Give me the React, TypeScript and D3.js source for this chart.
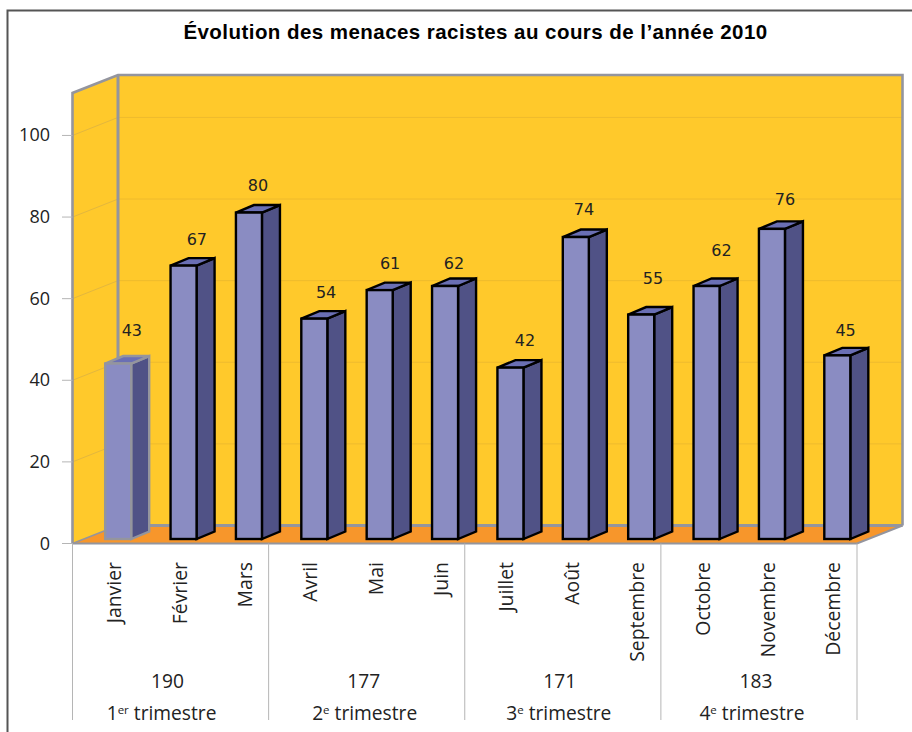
import * as d3 from "d3";

const months = ["Janvier", "Février", "Mars", "Avril", "Mai", "Juin", "Juillet", "Août", "Septembre", "Octobre", "Novembre", "Décembre"];
const threats = [43, 67, 80, 54, 61, 62, 42, 74, 55, 62, 76, 45];
const quarterTotals = [190, 177, 171, 183];
const quarterNames = ["1", "2", "3", "4"];
const quarterSuffix = ["er", "e", "e", "e"];
const yTicks = [0, 20, 40, 60, 80, 100];

const width = 912;
const height = 732;
const left = 72.5;
const right = 857;
const bottom = 543.5;
const depthX = 45.5;
const depthY = 18;
const labelFont = "'Open Sans', 'Noto Sans', sans-serif";
const wallGrey = "#94959e";

// the value labels were placed by hand in the original, so they don't sit evenly over the bars
const labelLift = [28, 20.6, 21.6, 20.7, 21, 17, 22, 22, 30.6, 30, 24, 19];
const labelShift = [26.7, 26.3, 22, 24.8, 23.4, 22, 27.6, 21.2, 24.8, 28, 26, 21.3];
const quarterShift = [-9, -2, -4, -7];

const x = d3.scaleBand<string>().domain(months).range([left, right]).paddingInner(0.602).paddingOuter(0.301);
const y = d3.scaleLinear().domain([0, 110.4]).range([bottom, 93]);
const quarterX = d3.scaleLinear().domain([0, 4]).range([left, right]);

const line = d3.line();
const poly = (pts: [number, number][]) => line(pts) + "Z";

export default function App() {
  const top = y(110.4);
  const barShiftX = 13;
  const barShiftY = 4.5;
  const sideX = 18;
  const sideY = 7.5;

  return (
    <svg width={width} height={height} style={{ position: "absolute", left: 0, top: 0, display: "block", background: "#fff" }}>
      {/* frame */}
      <path d="M7.5,732V10.5H912" fill="none" stroke="#555" strokeWidth={2} />
      <text
        x={475.5}
        y={38.5}
        textAnchor="middle"
        fontFamily="'Liberation Sans', Arial, sans-serif"
        fontWeight="bold"
        fontSize={20.5}
        letterSpacing={0.45}
        fill="#000"
      >
        Évolution des menaces racistes au cours de l’année 2010
      </text>

      {/* walls */}
      <path d={poly([[left, bottom], [left, top], [left + depthX, top - depthY], [left + depthX, bottom - depthY]])} fill="#ffc92b" />
      <path d={poly([[left + depthX, bottom - depthY], [left + depthX, top - depthY], [right + depthX, top - depthY], [right + depthX, bottom - depthY]])} fill="#ffc92b" />
      <path d={poly([[left, bottom], [left + depthX, bottom - depthY], [right + depthX, bottom - depthY], [right, bottom]])} fill="#f7962b" />

      {/* gridlines */}
      {yTicks.slice(1).map((t) => (
        <g key={t}>
          <path d={`M${left},${y(t)}L${left + depthX},${y(t) - depthY}`} fill="none" stroke="#e3b73e" strokeWidth={1} />
          <path d={`M${left + depthX},${y(t) - depthY}H${right + depthX}`} fill="none" stroke="#eebb2e" strokeWidth={1} />
        </g>
      ))}

      {/* wall edges */}
      <path
        d={`M${left},${bottom}V${top}L${left + depthX},${top - depthY}H${right + depthX}V${bottom - depthY}`}
        fill="none"
        stroke={wallGrey}
        strokeWidth={2.6}
      />
      <path d={`M${left + depthX},${top - depthY}V${bottom - depthY}H${right + depthX}`} fill="none" stroke={wallGrey} strokeWidth={3} />
      <path d={`M${left},${bottom}L${left + depthX},${bottom - depthY}`} fill="none" stroke={wallGrey} strokeWidth={1.5} />
      <path d={`M${left},${bottom}H${right}L${right + depthX},${bottom - depthY}`} fill="none" stroke={wallGrey} strokeWidth={2} />

      {/* y axis */}
      {yTicks.map((t) => (
        <g key={t}>
          <line x1={62} x2={left} y1={y(t)} y2={y(t)} stroke="#b5b5b5" strokeWidth={1} />
          <text x={50} y={y(t) + 6} textAnchor="end" fontFamily={labelFont} fontSize={18} fill="#222">
            {t}
          </text>
        </g>
      ))}

      {/* bars */}
      {months.map((m, i) => {
        const x0 = (x(m) as number) + barShiftX;
        const x1 = x0 + x.bandwidth();
        const yb = bottom - barShiftY;
        const yt = y(threats[i]) - barShiftY;
        const stroke = i === 0 ? wallGrey : "#000";
        return (
          <g key={m} stroke={stroke} strokeWidth={2.4} strokeLinejoin="miter">
            <path d={poly([[x1, yb], [x1, yt], [x1 + sideX, yt - sideY], [x1 + sideX, yb - sideY]])} fill="#505286" />
            <path d={poly([[x0, yt], [x1, yt], [x1 + sideX, yt - sideY], [x0 + sideX, yt - sideY]])} fill="#6a6fb4" />
            <rect x={x0} y={yt} width={x.bandwidth()} height={yb - yt} fill="#8a8cc2" />
            <text
              x={x0 + labelShift[i]}
              y={yt - labelLift[i]}
              textAnchor="middle"
              stroke="none"
              fontFamily="'DejaVu Sans', sans-serif"
              fontSize={16}
              fill="#222"
            >
              {threats[i]}
            </text>
          </g>
        );
      })}

      {/* category axis */}
      {d3.range(5).map((q) => (
        <line key={q} x1={quarterX(q)} x2={quarterX(q)} y1={bottom} y2={720} stroke="#b5b5b5" strokeWidth={1} />
      ))}
      {months.map((m) => {
        const cx = (x(m) as number) + x.bandwidth() / 2;
        return (
          <text
            key={m}
            transform={`translate(${cx + 16},562) rotate(-90)`}
            textAnchor="end"
            fontFamily={labelFont}
            fontSize={19.4}
            fill="#222"
          >
            {m}
          </text>
        );
      })}
      {quarterTotals.map((v, q) => {
        const cx = (quarterX(q) + quarterX(q + 1)) / 2;
        return (
          <g key={q} fontFamily={labelFont} fontSize={19.2} fill="#222" textAnchor="middle">
            <text x={cx - 3} y={688}>
              {v}
            </text>
            <text x={cx + quarterShift[q]} y={720}>
              {quarterNames[q]}
              <tspan fontSize={11.5} dy={-6}>
                {quarterSuffix[q]}
              </tspan>
              <tspan dy={6}> trimestre</tspan>
            </text>
          </g>
        );
      })}
    </svg>
  );
}
